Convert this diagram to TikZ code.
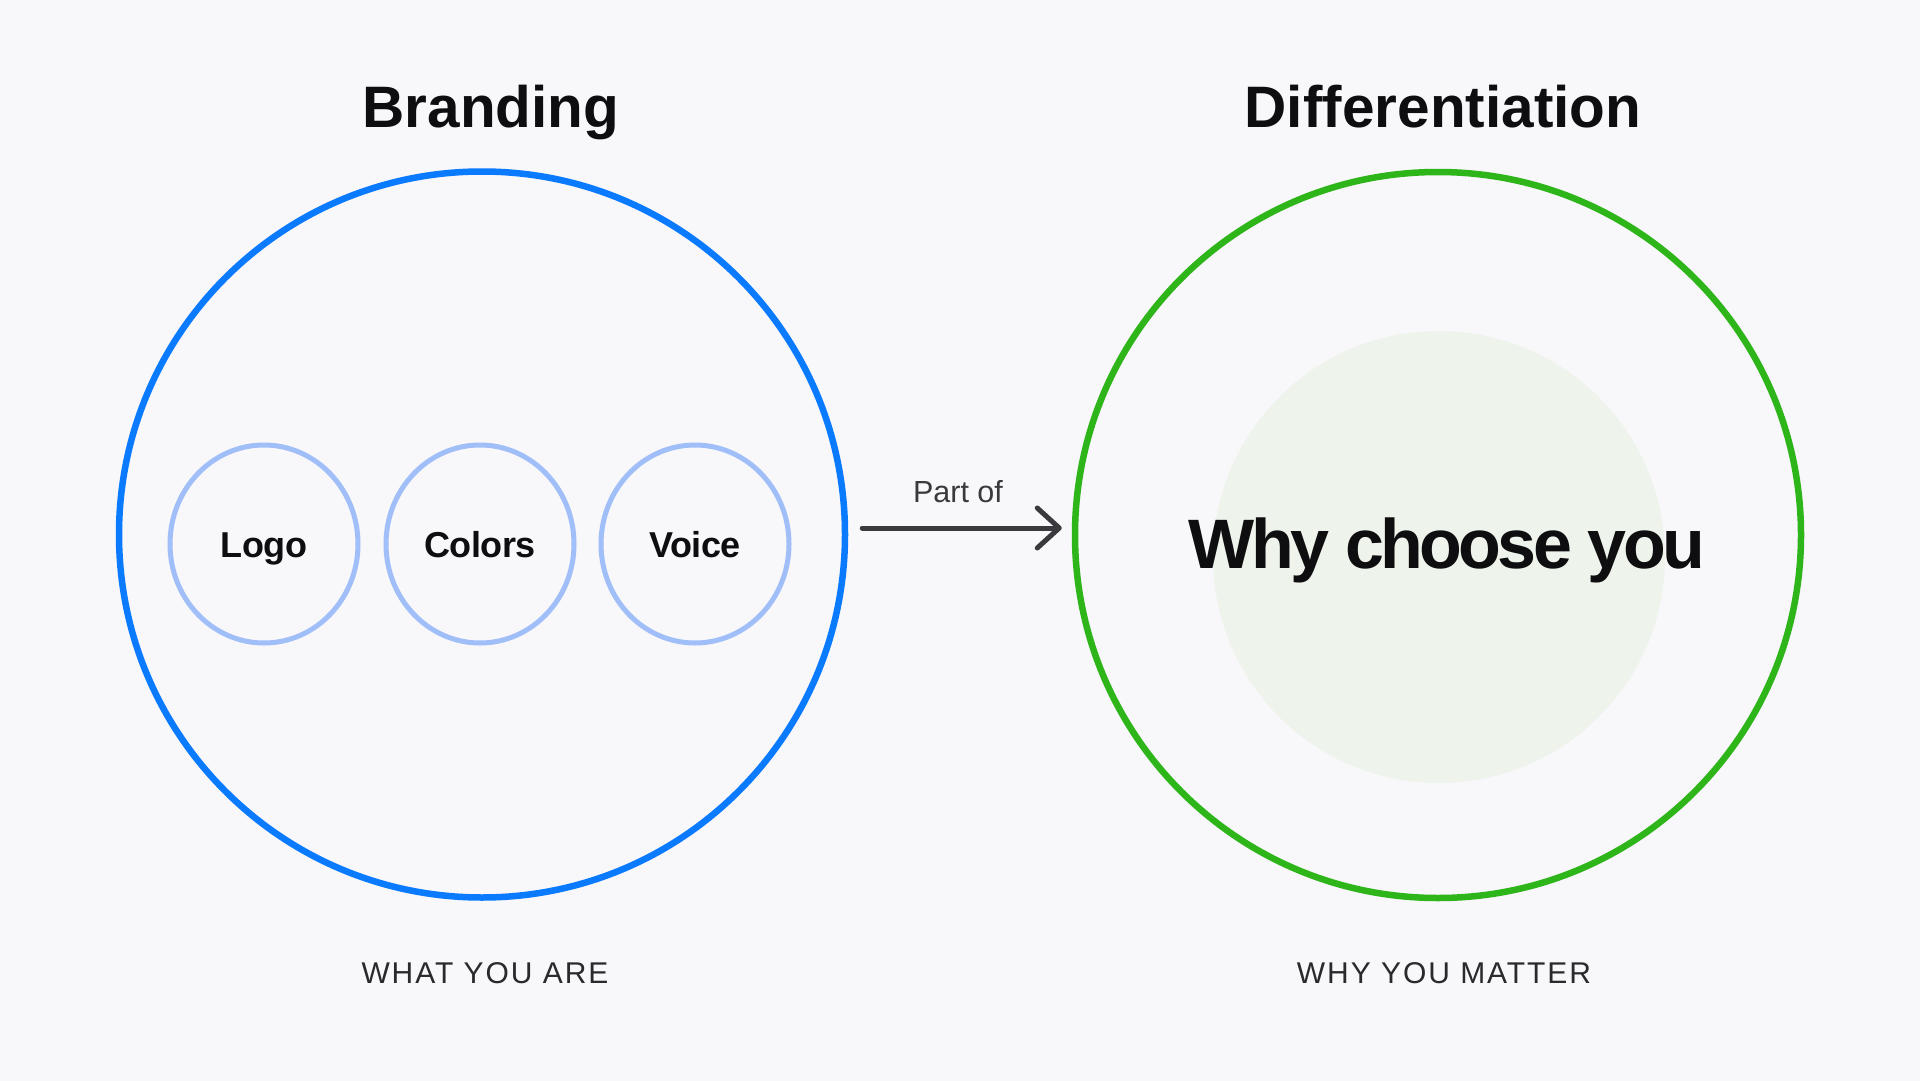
\documentclass[tikz,border=0pt]{standalone}
\usepackage{fontspec}
\setmainfont{Liberation Sans}
\usepackage{xcolor}
\usepackage{tikz}
\usetikzlibrary{positioning, shapes.geometric, arrows.meta}

\definecolor{paper}{HTML}{F8F7FA}
\definecolor{brandblue}{HTML}{0A7AFF}
\definecolor{softblue}{HTML}{A0BEF7}
\definecolor{diffgreen}{HTML}{2EB51A}
\definecolor{mistgreen}{HTML}{EEF3EB}
\definecolor{ink}{HTML}{0E0E10}
\definecolor{slate}{HTML}{2A2A2D}
\definecolor{arrowgray}{HTML}{3A3A3E}

\begin{document}
\begin{tikzpicture}[
        x=1pt, y=-1pt,
        bigring/.style={circle, draw, line width=6.5pt, minimum size=726pt, inner sep=0pt},
        smallring/.style={ellipse, draw=softblue, line width=5pt, minimum width=188pt, minimum height=198pt,
            inner sep=0pt, text height=26pt, text depth=0pt, text=ink,
            font=\fontsize{36}{38}\selectfont\bfseries\addfontfeatures{LetterSpace=-1.5}},
        title/.style={anchor=base, text=ink, font=\fontsize{58.5}{60}\selectfont\bfseries},
        caption/.style={anchor=base, text=slate, font=\fontsize{30}{32}\selectfont\addfontfeatures{LetterSpace=6.5}}
    ]

    % Page
    \fill[paper] (0,0) rectangle (1920,1081);
    \useasboundingbox (0,0) rectangle (1920,1081);

    % Titles
    \node[title] (brandtitle) at (491,127) {Branding};
    \node[title] (difftitle) at (1443,127) {Differentiation};

    % Branding circle with its three parts
    \node[bigring, draw=brandblue] (brand) at (482,534.5) {};
    \node[smallring] (logo) at (264,544) {Logo};
    \node[smallring] (colors) at (480,544) {Colors};
    \node[smallring] (voice) at (695,544) {Voice};

    % Differentiation circle with its soft core
    \node[circle, fill=mistgreen, minimum size=452pt, inner sep=0pt] (core) at (1439,557) {};
    \node[bigring, draw=diffgreen] (diff) at (1438,535) {};
    \node[anchor=base, text=ink, font=\fontsize{70}{72}\selectfont\bfseries\addfontfeatures{LetterSpace=-5.2}]
        (why) at (1447,568) {Why choose you};

    % Link between the two
    \draw[arrowgray, line width=5pt, line cap=round,
        -{Straight Barb[length=22pt, width=40pt, line cap=round, line join=round]}]
        ([shift={(14pt,6.5pt)}]brand.east) -- ([shift={(-10pt,7pt)}]diff.west);
    \node[anchor=base, text=arrowgray, font=\fontsize{30.5}{32}\selectfont] (partof) at (958,502) {Part of};

    % Captions
    \node[caption] (brandcap) at (485,983) {WHAT YOU ARE};
    \node[caption] (diffcap) at (1444,983) {WHY YOU MATTER};

\end{tikzpicture}
\end{document}
